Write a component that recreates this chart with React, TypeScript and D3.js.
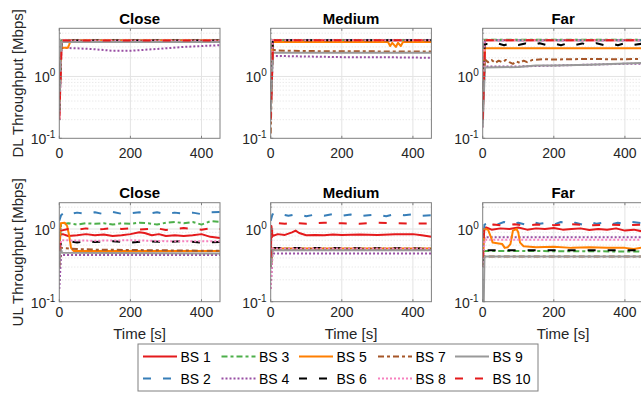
import React from 'react';
import * as d3 from 'd3';

type Pt = [number, number];

// ---------- categories / styles ----------
const bsNames = ['BS 1', 'BS 2', 'BS 3', 'BS 4', 'BS 5', 'BS 6', 'BS 7', 'BS 8', 'BS 9', 'BS 10'];
const bsColors = ['#e41a1c', '#377eb8', '#4daf4a', '#984ea3', '#ff7f00', '#000000', '#a65628', '#f781bf', '#999999', '#e41a1c'];
const bsDashes = [null, '8,12', '6,3,3,3', '2,2', null, '8,12', '6,3,3,3', '2,2', null, '8,12'];
const colTitles = ['Close', 'Medium', 'Far'];
const rowLabels = ['DL Throughput [Mbps]', 'UL Throughput [Mbps]'];
const xTicks = [0, 200, 400];
const yMajorTicks = [0.1, 1];
const xDomain: [number, number] = [0, 452];
const yDomainDL: [number, number] = [0.1, 6];
const yDomainUL: [number, number] = [0.1, 2.3];

// ---------- DL data (time [s], throughput [Mbps]) ----------
const dlClose: Pt[][] = [
  [[0, 0.25], [6, 3.8], [452, 3.8]],
  [[0, 0.3], [6, 3.8], [452, 3.8]],
  [[0, 0.28], [6, 3.8], [452, 3.8]],
  [[0, 0.2], [6, 2.9], [50, 2.85], [100, 2.75], [150, 2.6], [200, 2.6], [250, 2.72], [300, 2.85], [350, 3.0], [400, 3.1], [452, 3.2]],
  [[0, 0.3], [5, 2.9], [24, 2.9], [28, 3.3], [32, 3.8], [452, 3.8]],
  [[0, 0.28], [6, 3.8], [452, 3.8]],
  [[0, 0.25], [6, 3.75], [452, 3.75]],
  [[0, 0.2], [6, 3.8], [452, 3.8]],
  [[0, 0.3], [5, 3.6], [452, 3.6]],
  [[0, 0.2], [7, 3.8], [452, 3.8]],
];
const dlMedium: Pt[][] = [
  [[0, 0.3], [6, 3.85], [452, 3.85]],
  [[0, 0.3], [6, 3.85], [452, 3.85]],
  [[0, 0.3], [6, 3.85], [452, 3.85]],
  [[0, 0.3], [6, 2.15], [100, 2.1], [200, 2.05], [300, 2.05], [400, 2.02], [452, 2.0]],
  [[0, 0.3], [6, 3.6], [330, 3.6], [336, 3.1], [342, 3.5], [352, 3.0], [358, 3.5], [366, 3.1], [372, 3.6], [452, 3.6]],
  [[0, 0.3], [6, 3.85], [452, 3.85]],
  [[0, 0.12], [5, 2.7], [20, 2.62], [100, 2.57], [452, 2.52]],
  [[0, 0.3], [6, 3.85], [452, 3.85]],
  [[0, 0.25], [6, 2.42], [452, 2.42]],
  [[0, 0.2], [7, 3.85], [452, 3.85]],
];
const dlFar: Pt[][] = [
  [[0, 0.2], [6, 3.85], [452, 3.85]],
  [[0, 0.3], [6, 3.85], [452, 3.85]],
  [[0, 0.3], [6, 3.92], [452, 3.92]],
  [[0, 0.3], [6, 1.45], [100, 1.45], [200, 1.5], [300, 1.55], [400, 1.6], [452, 1.6]],
  [[0, 0.3], [6, 2.85], [452, 2.85]],
  [[0, 0.3], [6, 3.4], [20, 3.2], [40, 3.45], [60, 3.2], [80, 3.45], [100, 3.22], [120, 3.42], [140, 3.2], [160, 3.45], [180, 3.22], [200, 3.42], [220, 3.2], [240, 3.45], [260, 3.22], [280, 3.42], [300, 3.2], [320, 3.45], [340, 3.22], [360, 3.42], [380, 3.2], [400, 3.45], [420, 3.22], [452, 3.4]],
  [[0, 0.2], [6, 1.9], [15, 1.7], [25, 1.85], [35, 1.65], [45, 1.8], [55, 1.7], [65, 1.85], [75, 1.7], [85, 1.6], [95, 1.75], [105, 1.65], [115, 1.8], [125, 1.7], [140, 1.85], [170, 1.9], [200, 1.88], [250, 1.9], [300, 1.92], [350, 1.9], [400, 1.9], [452, 1.92]],
  [[0, 0.15], [6, 3.85], [452, 3.85]],
  [[0, 0.15], [6, 1.4], [100, 1.42], [150, 1.5], [200, 1.5], [300, 1.55], [400, 1.62], [452, 1.65]],
  [[0, 0.2], [7, 3.85], [452, 3.85]],
];

// ---------- UL data ----------
const ulClose: Pt[][] = [
  [[0, 0.5], [3, 0.85], [10, 0.85], [25, 0.8], [50, 0.82], [75, 0.85], [100, 0.82], [125, 0.84], [150, 0.8], [175, 0.82], [200, 0.85], [225, 0.9], [240, 0.88], [260, 0.82], [280, 0.85], [300, 0.8], [325, 0.82], [350, 0.8], [375, 0.82], [400, 0.85], [425, 0.78], [452, 0.75]],
  [[0, 1.3], [5, 1.55], [15, 1.7], [30, 1.6], [50, 1.68], [75, 1.62], [100, 1.7], [125, 1.6], [150, 1.72], [175, 1.62], [200, 1.65], [225, 1.7], [250, 1.62], [275, 1.7], [300, 1.6], [325, 1.68], [350, 1.62], [375, 1.68], [400, 1.6], [425, 1.7], [452, 1.72]],
  [[0, 0.5], [5, 1.15], [25, 1.2], [50, 1.15], [75, 1.2], [100, 1.18], [125, 1.2], [150, 1.15], [175, 1.2], [200, 1.18], [225, 1.22], [250, 1.2], [275, 1.15], [300, 1.22], [325, 1.25], [350, 1.2], [375, 1.25], [400, 1.15], [425, 1.28], [452, 1.25]],
  [[0, 0.15], [5, 0.44], [452, 0.44]],
  [[0, 0.6], [4, 1.2], [15, 1.22], [22, 1.1], [28, 0.8], [33, 0.55], [40, 0.5], [452, 0.5]],
  [[0, 0.5], [5, 0.65], [25, 0.68], [50, 0.65], [75, 0.68], [100, 0.66], [150, 0.68], [200, 0.65], [250, 0.68], [300, 0.66], [350, 0.68], [400, 0.65], [452, 0.66]],
  [[0, 0.3], [5, 0.55], [50, 0.53], [100, 0.52], [452, 0.5]],
  [[0, 0.3], [5, 0.7], [100, 0.69], [200, 0.7], [300, 0.68], [452, 0.68]],
  [[0, 0.3], [3, 0.55], [8, 0.47], [452, 0.46]],
  [[0, 0.5], [5, 0.95], [25, 1.0], [50, 0.97], [75, 1.02], [100, 0.98], [125, 1.0], [150, 1.03], [175, 1.0], [200, 1.02], [225, 0.98], [250, 1.0], [275, 1.02], [300, 0.97], [325, 1.0], [350, 1.03], [375, 1.0], [400, 0.98], [425, 1.02], [452, 1.0]],
];
const ulMedium: Pt[][] = [
  [[0, 0.3], [2, 1.1], [5, 0.8], [20, 0.85], [40, 0.83], [60, 0.9], [70, 0.95], [80, 0.88], [100, 0.82], [125, 0.83], [150, 0.82], [175, 0.84], [200, 0.83], [250, 0.84], [300, 0.83], [350, 0.85], [400, 0.85], [425, 0.82], [452, 0.78]],
  [[0, 1.3], [5, 1.6], [15, 1.5], [30, 1.6], [50, 1.52], [75, 1.6], [100, 1.5], [125, 1.58], [150, 1.52], [175, 1.6], [200, 1.52], [225, 1.58], [250, 1.5], [275, 1.55], [300, 1.58], [325, 1.5], [350, 1.6], [375, 1.55], [400, 1.6], [425, 1.52], [452, 1.55]],
  [[0, 0.3], [5, 0.54], [452, 0.54]],
  [[0, 0.15], [5, 0.46], [452, 0.46]],
  [[0, 0.3], [5, 0.54], [452, 0.54]],
  [[0, 0.3], [5, 0.55], [452, 0.54]],
  [[0, 0.3], [5, 0.53], [452, 0.53]],
  [[0, 0.15], [5, 0.54], [452, 0.54]],
  [[0, 0.3], [4, 0.51], [452, 0.51]],
  [[0, 0.4], [5, 1.15], [20, 1.2], [40, 1.18], [60, 1.22], [80, 1.2], [100, 1.18], [150, 1.22], [200, 1.2], [250, 1.18], [300, 1.22], [350, 1.2], [400, 1.18], [452, 1.2]],
];
const ulFar: Pt[][] = [
  [[0, 0.3], [3, 1.0], [10, 1.05], [25, 0.98], [50, 1.02], [75, 1.0], [100, 1.05], [125, 0.98], [150, 1.02], [175, 1.0], [200, 1.03], [225, 0.98], [250, 1.0], [275, 1.02], [300, 0.97], [325, 1.0], [350, 0.98], [375, 1.02], [400, 0.95], [425, 0.98], [452, 0.92]],
  [[0, 0.5], [5, 1.15], [20, 1.22], [40, 1.15], [60, 1.25], [80, 1.15], [100, 1.22], [120, 1.15], [140, 1.25], [160, 1.18], [180, 1.22], [200, 1.15], [220, 1.25], [240, 1.17], [260, 1.22], [280, 1.15], [300, 1.25], [320, 1.18], [340, 1.22], [360, 1.15], [380, 1.22], [400, 1.18], [420, 1.25], [452, 1.2]],
  [[0, 0.3], [5, 0.5], [452, 0.49]],
  [[0, 0.3], [5, 0.77], [452, 0.77]],
  [[0, 0.3], [4, 1.0], [15, 0.98], [22, 0.8], [28, 0.65], [45, 0.63], [55, 0.62], [62, 0.55], [70, 0.56], [78, 0.62], [85, 0.95], [95, 1.0], [100, 0.9], [105, 0.65], [115, 0.58], [150, 0.56], [200, 0.57], [250, 0.55], [300, 0.56], [350, 0.55], [400, 0.55], [425, 0.53], [452, 0.56]],
  [[0, 0.3], [5, 0.51], [452, 0.51]],
  [[0, 0.3], [5, 0.42], [452, 0.42]],
  [[0, 0.3], [5, 0.71], [452, 0.71]],
  [[0, 0.1], [3, 0.1], [5, 0.42], [452, 0.42]],
  [[0, 0.4], [5, 1.1], [30, 1.15], [60, 1.12], [90, 1.16], [120, 1.12], [150, 1.15], [200, 1.13], [250, 1.16], [300, 1.12], [350, 1.15], [400, 1.13], [452, 1.15]],
];

const panels: Pt[][][][] = [
  [dlClose, dlMedium, dlFar],
  [ulClose, ulMedium, ulFar],
];
const yDomains = [yDomainDL, yDomainUL];

// ---------- layout ----------
const W = 641;
const H = 394;
const COL_X = [59.3, 270.7, 482.7];
const AX_W = 160.7;
const ROW_Y = [28.3, 202.7];
const AX_H = [110, 99];
const FONT = '"Liberation Sans", Arial, Helvetica, sans-serif';
const AXIS_COLOR = '#808080';
const TEXT_COLOR = '#262626';

function minorValues(domain: [number, number]): number[] {
  const out: number[] = [];
  for (let d = domain[0]; d < domain[1]; d *= 10) {
    for (let k = 2; k <= 9; k++) {
      const v = k * d;
      if (v < domain[1]) out.push(v);
    }
  }
  return out;
}

function Panel({ row, col }: { row: number; col: number }) {
  const x0 = COL_X[col];
  const y0 = ROW_Y[row];
  const h = AX_H[row];
  const x = d3.scaleLinear().domain(xDomain).range([x0, x0 + AX_W]);
  const y = d3.scaleLog().domain(yDomains[row]).range([y0 + h, y0]);
  const line = d3.line<Pt>().x((d) => x(d[0])).y((d) => y(d[1]));
  const series = panels[row][col];
  const clipId = `clip-${row}-${col}`;
  const minors = minorValues(yDomains[row]);
  const tickLabelBase = row === 0 ? y0 + h + 19.5 : y0 + h + 15;
  return (
    <g>
      <defs>
        <clipPath id={clipId}>
          <rect x={x0} y={y0} width={AX_W} height={h} />
        </clipPath>
      </defs>
      <rect x={x0} y={y0} width={AX_W} height={h} fill="#fff" />
      {/* minor y grid */}
      {minors.map((v) => (
        <line key={'mg' + v} x1={x0} x2={x0 + AX_W} y1={y(v)} y2={y(v)} stroke="#d4d4d4" strokeWidth={0.7} strokeDasharray="1,2" />
      ))}
      {/* major grid */}
      {yMajorTicks.filter((v) => v > yDomains[row][0]).map((v) => (
        <line key={'yg' + v} x1={x0} x2={x0 + AX_W} y1={y(v)} y2={y(v)} stroke="#e3e3e3" strokeWidth={1} />
      ))}
      {xTicks.filter((v) => v > 0).map((v) => (
        <line key={'xg' + v} x1={x(v)} x2={x(v)} y1={y0} y2={y0 + h} stroke="#e3e3e3" strokeWidth={1} />
      ))}
      {/* data */}
      <g clipPath={`url(#${clipId})`}>
        {series.map((s, i) => (
          <path key={i} d={line(s) || ''} fill="none" stroke={bsColors[i]} strokeWidth={2}
            strokeDasharray={bsDashes[i] || undefined} strokeLinejoin="round" />
        ))}
      </g>
      {/* box */}
      <rect x={x0} y={y0} width={AX_W} height={h} fill="none" stroke={AXIS_COLOR} strokeWidth={1} />
      {/* ticks */}
      {xTicks.map((v) => (
        <g key={'xt' + v}>
          <line x1={x(v)} x2={x(v)} y1={y0 + h} y2={y0 + h - 2.5} stroke={AXIS_COLOR} />
          <line x1={x(v)} x2={x(v)} y1={y0} y2={y0 + 2.5} stroke={AXIS_COLOR} />
          <text x={x(v)} y={tickLabelBase} textAnchor="middle" fontSize={14} fill={TEXT_COLOR} fontFamily={FONT}>{v}</text>
        </g>
      ))}
      {yMajorTicks.map((v) => (
        <g key={'yt' + v}>
          <line x1={x0} x2={x0 + 2.5} y1={y(v)} y2={y(v)} stroke={AXIS_COLOR} />
          <text x={x0 - 4} y={y(v) + 6} textAnchor="end" fontSize={14} fill={TEXT_COLOR} fontFamily={FONT}>
            <tspan>10</tspan>
            <tspan dy={-6} fontSize={10}>{Math.round(Math.log10(v))}</tspan>
          </text>
        </g>
      ))}
      {minors.map((v) => (
        <line key={'mt' + v} x1={x0} x2={x0 + 1.5} y1={y(v)} y2={y(v)} stroke={AXIS_COLOR} strokeWidth={0.8} />
      ))}
      {/* title */}
      <text x={x0 + AX_W / 2} y={y0 - 4.5} textAnchor="middle" fontSize={15} fontWeight="bold" fill="#000" fontFamily={FONT}>
        {colTitles[col]}
      </text>
      {row === 1 && (
        <text x={x0 + AX_W / 2} y={339} textAnchor="middle" fontSize={15} fill={TEXT_COLOR} fontFamily={FONT}>Time [s]</text>
      )}
      {col === 0 && (
        <text transform={`translate(23.3, ${y0 + h / 2}) rotate(-90)`} textAnchor="middle" fontSize={15} fill={TEXT_COLOR} fontFamily={FONT}>
          {rowLabels[row]}
        </text>
      )}
    </g>
  );
}

function Legend() {
  const bx = 138, by = 344, bw = 400, bh = 47;
  const colX = [143, 221.5, 299, 378, 455];
  const rowY = [356.5, 378.5];
  const len = 34;
  return (
    <g>
      <rect x={bx} y={by} width={bw} height={bh} fill="#fff" stroke={AXIS_COLOR} strokeWidth={1} />
      {bsNames.map((name, i) => {
        const c = Math.floor(i / 2);
        const r = i % 2;
        const lx = colX[c];
        const ly = rowY[r];
        return (
          <g key={name}>
            <line x1={lx} x2={lx + len} y1={ly} y2={ly} stroke={bsColors[i]} strokeWidth={2} strokeDasharray={bsDashes[i] || undefined} />
            <text x={lx + len + 3.5} y={ly + 5} fontSize={14} fill="#000" fontFamily={FONT}>{name}</text>
          </g>
        );
      })}
    </g>
  );
}

export default function App() {
  return (
    <svg width={W} height={H} style={{ position: 'absolute', left: 0, top: 0, background: '#fff' }}>
      <rect width={W} height={H} fill="#fff" />
      {[0, 1].map((r) => [0, 1, 2].map((c) => <Panel key={`${r}-${c}`} row={r} col={c} />))}
      <Legend />
    </svg>
  );
}
